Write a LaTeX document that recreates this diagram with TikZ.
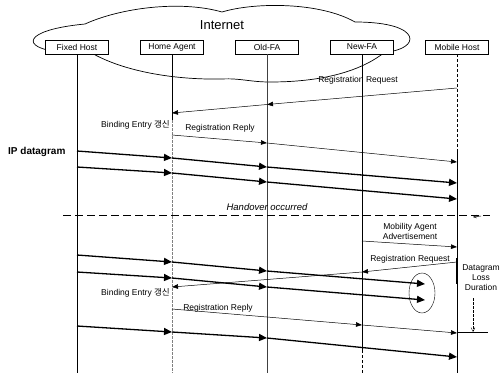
\documentclass[tikz,border=0pt]{standalone}
\usepackage{fontspec}
\setmainfont{Liberation Sans}
\newfontfamily\krfont{Noto Sans CJK KR}
\usetikzlibrary{arrows.meta,shapes.geometric}
\begin{document}
\begin{tikzpicture}[x=1pt,y=-1pt,
  box/.style={draw,line width=0.6pt,fill=white,minimum width=63pt,minimum height=14pt,inner sep=0pt,font=\fontsize{8.5}{10}\selectfont},
  life/.style={line width=0.6pt},
  datarrow/.style={line width=1.3pt,-{Triangle[length=8pt,width=7pt]}},
  msgarrow/.style={line width=0.5pt,-{Triangle[length=6pt,width=4.5pt]}},
  lbl/.style={font=\fontsize{8.5}{10}\selectfont,inner sep=0pt}]
\useasboundingbox (0,0) rectangle (503,373);
\coordinate (bot) at (0,373);
% cloud
\draw[line width=0.7pt] (60,52) .. controls (20,48) and (22,30) .. (85,24)
  .. controls (120,8) and (180,0) .. (222,12)
  .. controls (255,2) and (320,2) .. (355,22)
  .. controls (425,22) and (420,50) .. (385,52)
  .. controls (365,68) and (330,82) .. (270,82)
  .. controls (250,82) and (240,78) .. (222,79)
  .. controls (170,80) and (120,70) .. (90,52);
\node[font=\fontsize{13}{15}\selectfont,inner sep=0pt] (inet) at (222,25) {Internet};
% boxes
\node[box] (fh) at (77,47) {Fixed Host};
\node[box] (ha) at (172,47) {Home Agent};
\node[box] (of) at (267,47) {Old-FA};
\node[box] (nf) at (362,47) {New-FA};
\node[box] (mh) at (457,47) {Mobile Host};
% lifelines
\draw[life] (fh.south) -- (fh |- bot);
\draw[life] (ha.south) -- (ha |- 0,120);
\draw[line width=0.5pt,gray,dash pattern=on 3pt off 1pt] (ha |- 0,120) -- (ha |- bot);
\draw[line width=0.9pt,black!75] (of.south) -- (of |- bot);
\draw[life] (nf.south) -- (nf |- 0,350);
\draw[line width=0.5pt,dash pattern=on 3pt off 2pt] (nf |- 0,350) -- (nf |- bot);
\draw[line width=0.5pt,dash pattern=on 3pt off 2pt] (mh.south) -- (mh |- 0,150);
\draw[life] (mh |- 0,150) -- (mh |- bot);
% registration request 1
\draw[msgarrow] (mh |- 0,88) -- (of |- 0,104.5);
\draw[msgarrow] (of |- 0,104.5) -- (ha |- 0,113);
\node[lbl] (rq1) at (358,80) {Registration Request};
\node[lbl,anchor=east] (be1) at (170,125) {Binding Entry {\krfont 갱신}};
% registration reply 1
\draw[msgarrow] (ha |- 0,135) -- (of |- 0,143);
\draw[msgarrow] (of |- 0,143) -- (mh |- 0,162);
\node[lbl] (rp1) at (220,128) {Registration Reply};
% IP datagram
\node[font=\fontsize{10}{12}\selectfont\bfseries,inner sep=0pt,anchor=west] (ipd) at (8,152) {IP datagram};
\draw[datarrow] (fh |- 0,151) -- (ha |- 0,158);
\draw[datarrow] (ha |- 0,158) -- (of |- 0,167);
\draw[datarrow] (of |- 0,167) -- (mh |- 0,183);
\draw[datarrow] (fh |- 0,167) -- (ha |- 0,173);
\draw[datarrow] (ha |- 0,173) -- (of |- 0,182);
\draw[datarrow] (of |- 0,182) -- (mh |- 0,199);
% handover
\node[font=\fontsize{9.5}{11}\selectfont\itshape,inner sep=0pt] (ho) at (267,207) {Handover occurred};
\coordinate (hl) at (63,215);
\coordinate (hr) at (490,215);
\draw[line width=0.7pt,dash pattern=on 8pt off 4pt] (hl) -- (hr);
\coordinate (hk1) at (481,216);
\coordinate (hk2) at (473,217);
\draw[line width=0.5pt,-{Straight Barb[length=3pt,width=3pt]}] (hk1) -- (hk2);
% mobility agent advertisement
\node[lbl,align=center] (maa) at (410,231.5) {Mobility Agent\\Advertisement};
\draw[msgarrow] (nf |- 0,241) -- (mh |- 0,247);
% loss ellipse
\node[draw,line width=0.4pt,ellipse,minimum width=26pt,minimum height=40pt,inner sep=0pt] (loss) at (422,293) {};
% datagrams after handover
\coordinate (e1) at (425,284);
\coordinate (e2) at (425,300);
\draw[datarrow] (fh |- 0,255) -- (ha |- 0,262);
\draw[datarrow] (ha |- 0,262) -- (of |- 0,271);
\draw[datarrow] (of |- 0,271) -- (e1);
\draw[datarrow] (fh |- 0,272) -- (ha |- 0,278);
\draw[datarrow] (ha |- 0,278) -- (of |- 0,287);
\draw[datarrow] (of |- 0,287) -- (e2);
% registration request 2
\draw[msgarrow] (mh |- 0,262) -- (nf |- 0,272);
\draw[msgarrow] (nf |- 0,272) -- (ha |- 0,287);
\node[lbl] (rq2) at (410,259) {Registration Request};
\node[lbl,anchor=east] (be2) at (170,293) {Binding Entry {\krfont 갱신}};
% registration reply 2
\draw[msgarrow] (ha |- 0,309) -- (nf |- 0,325);
\draw[msgarrow] (nf |- 0,325) -- (mh |- 0,333);
\node[lbl] (rp2) at (218,308) {Registration Reply};
% datagram 3
\draw[datarrow] (fh |- 0,326) -- (ha |- 0,332);
\draw[datarrow] (ha |- 0,332) -- (of |- 0,338);
\draw[datarrow] (of |- 0,338) -- (mh |- 0,357);
% loss duration
\draw[line width=1.2pt] (mh |- 0,258) -- (mh |- 0,284);
\node[lbl,align=center,font=\fontsize{8.5}{10}\selectfont] (dld) at (481,278) {Datagram\\Loss\\Duration};
\coordinate (d1) at (473,298);
\coordinate (d2) at (473,332);
\coordinate (d3) at (488,332);
\draw[line width=0.4pt,dash pattern=on 3pt off 1pt,-{Straight Barb[length=4pt,width=4pt]}] (d1) -- (d2);
\draw[line width=0.5pt] (mh |- d2) -- (d3);
\end{tikzpicture}
\end{document}
